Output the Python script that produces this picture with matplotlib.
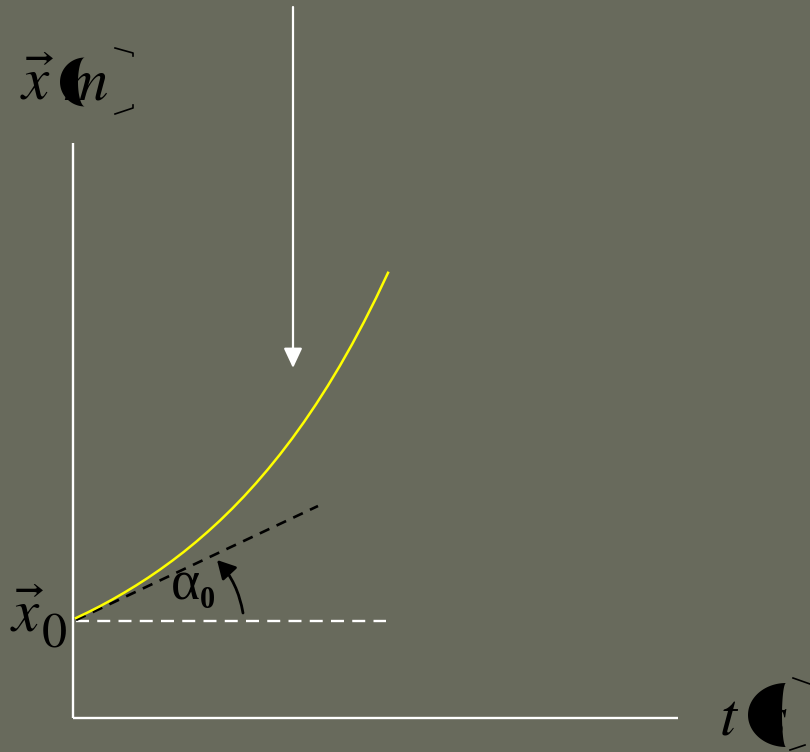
import numpy as np
import matplotlib.pyplot as plt
from matplotlib.patches import Polygon

plt.rcParams['mathtext.fontset'] = 'stix'

bg = '#686a5c'

# position x(t)
t = [3, 15, 27, 39, 51, 63, 75, 87, 99, 111, 123, 135, 147, 159,
     171, 183, 195, 207, 219, 231, 243, 255, 267, 279, 291, 303, 315]
x = [100.0, 105.7, 111.8, 118.3, 125.2, 132.5, 140.2, 148.4, 157.1,
     166.3, 176.1, 186.5, 197.5, 209.2, 221.6, 234.8, 248.8, 263.6,
     279.3, 296.0, 313.7, 332.5, 352.4, 373.6, 396.1, 419.9, 445.2]

# initial tangent at t = 0 and the reference level x0
tangent_t = [3, 245]
tangent_x = [98, 212]
x0_t = [3, 313]
x0_level = 97

fig = plt.figure(figsize=(8.1, 7.52), dpi=100, facecolor=bg)
ax = fig.add_axes([0, 0, 1, 1])
ax.set_facecolor(bg)
ax.set_xlim(-73, 737)
ax.set_ylim(-34, 718)
ax.axis('off')

# axes drawn as plain white lines
ax.plot([0, 0], [0, 575], color='white', lw=1.7, solid_capstyle='butt')
ax.plot([0, 605], [0, 0], color='white', lw=1.7, solid_capstyle='butt')

ax.plot(x0_t, [x0_level, x0_level], color='white', lw=1.7,
        linestyle=(0, (5.5, 3.5)))
ax.plot(tangent_t, tangent_x, color='black', lw=1.9, linestyle=(0, (4, 3)))
ax.plot(t, x, color='#ffff00', lw=1.8, zorder=3, solid_joinstyle='round')

# vertical white arrow coming from the top
ax.annotate('', xy=(220, 350), xytext=(220, 711),
            arrowprops=dict(arrowstyle='-|>,head_length=0.6,head_width=0.28',
                            color='white', lw=1.6, mutation_scale=20,
                            shrinkA=0, shrinkB=0))

# curved arrow marking the angle alpha_0
ax.annotate('', xy=(144, 158), xytext=(170, 105),
            arrowprops=dict(arrowstyle='-|>,head_length=0.55,head_width=0.3',
                            color='black', lw=2, mutation_scale=20,
                            shrinkA=0, shrinkB=0,
                            connectionstyle='arc3,rad=0.15'))

serif = 'STIXGeneral'
ax.text(98, 118, '\u03b1', fontsize=40, fontfamily='Liberation Serif',
        color='black', ha='left', va='baseline')
ax.text(127, 110, '0', fontsize=22, fontfamily='Liberation Serif',
        fontweight='bold', color='black', ha='left', va='baseline')

# axis labels
ax.text(-53, 618, r'$\vec{x}$', fontsize=44, color='black',
        ha='left', va='baseline')
ax.text(-10, 618, 'm', fontsize=44, fontfamily=serif, style='italic',
        color='black', ha='left', va='baseline')
ax.text(-63, 86, r'$\vec{x}$', fontsize=44, color='black',
        ha='left', va='baseline')
ax.text(-31, 70, '0', fontsize=36, fontfamily=serif, color='black',
        ha='left', va='baseline')
ax.text(647, -17, 't', fontsize=44, fontfamily=serif, style='italic',
        color='black', ha='left', va='baseline')
ax.text(690, -17, 's', fontsize=44, fontfamily=serif, style='italic',
        color='black', ha='left', va='baseline')


def crescent(cx, cy, a, b, inner):
    # outer left arc, then back along a shallower inner arc
    th = np.linspace(np.pi / 2, 3 * np.pi / 2, 60)
    outer = np.column_stack([cx + a * np.cos(th), cy + b * np.sin(th)])
    back = np.column_stack([cx + inner * np.cos(th[::-1]),
                            cy + b * np.sin(th[::-1])])
    return Polygon(np.vstack([outer, back]), closed=True, facecolor='black',
                   edgecolor='none', zorder=4)


# parentheses around the units
ax.add_patch(crescent(12, 636, 25, 24.5, 7))
ax.add_patch(crescent(713, 3, 38, 32, 4))
ax.plot([42, 60, 60], [670, 665, 662], color='black', lw=1.2)
ax.plot([42, 60, 60], [604, 610, 613], color='black', lw=1.2)
ax.plot([720, 737], [40, 34], color='black', lw=1.2)
ax.plot([717, 732], [-32, -27], color='black', lw=1.2)

fig.savefig('out.png', dpi=100, facecolor=bg)
